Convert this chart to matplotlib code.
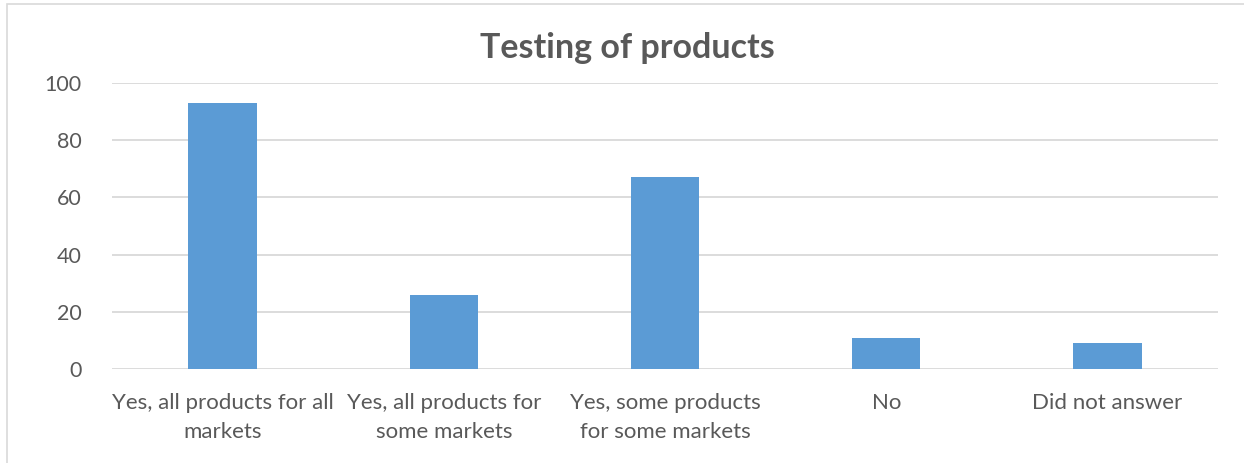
import matplotlib
matplotlib.use("Agg")
import matplotlib.pyplot as plt
from matplotlib.patches import Rectangle

categories = [
    "Yes, all products for all\nmarkets",
    "Yes, all products for\nsome markets",
    "Yes, some products\nfor some markets",
    "No",
    "Did not answer",
]
values = [93, 26, 67, 11, 9]
y_ticks = [0, 20, 40, 60, 80, 100]
title = "Testing of products"

text_color = "#595959"
bar_color = "#5B9BD5"
grid_color = "#D9D9D9"

plt.rcParams["font.family"] = ["Lato", "DejaVu Sans"]

fig = plt.figure(figsize=(12.44, 4.63), dpi=100)
fig.patch.set_facecolor("white")

# outer chart frame
fig.add_artist(Rectangle((7 / 1244, -0.1), 1.2, 1 - 4 / 463 + 0.1,
                         transform=fig.transFigure, fill=False,
                         edgecolor=grid_color, linewidth=1.2))

ax = fig.add_axes([112 / 1244, 1 - 369 / 463, (1218 - 112) / 1244, (369 - 83) / 463])
x = range(len(categories))
ax.bar(x, values, width=0.31, color=bar_color, zorder=3)

ax.set_xlim(-0.5, len(categories) - 0.5)
ax.set_ylim(0, 100)
ax.set_yticks(y_ticks)
ax.set_xticks(list(x))
ax.set_xticklabels(categories, fontsize=16, color=text_color, linespacing=1.6)
ax.tick_params(axis="y", labelsize=15.5, labelcolor=text_color, length=0, pad=22)
ax.tick_params(axis="x", length=0, pad=17)

ax.yaxis.grid(True, color=grid_color, linewidth=1.3, zorder=0)
for s in ax.spines.values():
    s.set_visible(False)

fig.text(627 / 1244, 1 - 48 / 463, title, ha="center", va="center",
         fontsize=24.5, fontweight="bold", color=text_color)

fig.savefig("out.png", dpi=100)
